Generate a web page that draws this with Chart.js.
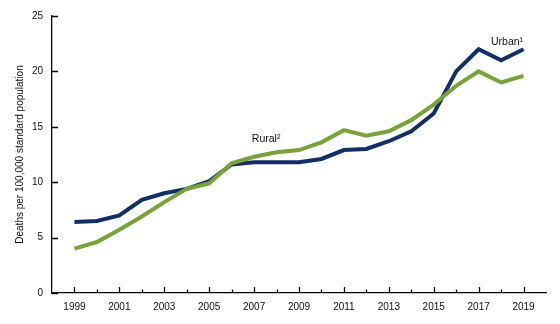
<!DOCTYPE html>
<html>
<head>
<meta charset="utf-8">
<script src="https://cdn.jsdelivr.net/npm/chart.js@4"></script>
<style>
  html, body { margin: 0; padding: 0; background: #fff; }
  #wrap { width: 560px; height: 324px; }
</style>
</head>
<body>
<div id="wrap"><canvas id="line_chart" width="560" height="324"></canvas></div>
<script>
// values
let years = [1999, 2000, 2001, 2002, 2003, 2004, 2005, 2006, 2007, 2008, 2009,
             2010, 2011, 2012, 2013, 2014, 2015, 2016, 2017, 2018, 2019]
let urban = [6.4, 6.5, 7.0, 8.4, 9.0, 9.4, 10.1, 11.6, 11.8, 11.8, 11.8,
             12.1, 12.9, 13.0, 13.7, 14.6, 16.2, 20.0, 22.0, 21.0, 22.0]
let rural = [4.0, 4.6, 5.7, 6.9, 8.2, 9.4, 9.9, 11.7, 12.3, 12.7, 12.9,
             13.6, 14.7, 14.2, 14.6, 15.6, 17.0, 18.7, 20.0, 19.0, 19.6]
let yTicks = [0, 5, 10, 15, 20, 25]
let xLabels = [1999, 2001, 2003, 2005, 2007, 2009, 2011, 2013, 2015, 2017, 2019]

let font = "'Liberation Sans', Arial, sans-serif"

function toPoints(values) {
    return years.map((yr, i) => ({x: yr, y: values[i]}))
}

// ticks point inward, and series labels sit next to the lines
let extras = {
    id: 'extras',
    afterDraw(chart) {
        let ctx = chart.ctx
        let xs = chart.scales.x
        let ys = chart.scales.y
        let area = chart.chartArea
        ctx.save()
        ctx.strokeStyle = '#000'
        ctx.lineWidth = 1.3
        ctx.beginPath()
        for (let yr = 1999; yr <= 2019; yr++) {
            let px = Math.round(xs.getPixelForValue(yr)) + 0.5
            let len = xLabels.includes(yr) ? 6 : 3.5
            ctx.moveTo(px, area.bottom)
            ctx.lineTo(px, area.bottom - len)
        }
        yTicks.forEach(v => {
            let py = Math.round(ys.getPixelForValue(v)) + 0.5
            ctx.moveTo(area.left, py)
            ctx.lineTo(area.left + 6, py)
        })
        ctx.stroke()

        ctx.fillStyle = '#111'
        ctx.font = '10.5px ' + font
        ctx.textBaseline = 'middle'
        ctx.textAlign = 'left'
        ctx.fillText('Urban\u00b9', xs.getPixelForValue(2017.55), ys.getPixelForValue(22.6))
        ctx.fillText('Rural\u00b2', xs.getPixelForValue(2006.9), ys.getPixelForValue(13.9))

        ctx.font = '10px ' + font
        ctx.translate(20, (area.top + area.bottom) / 2)
        ctx.rotate(-Math.PI / 2)
        ctx.textAlign = 'center'
        ctx.fillText('Deaths per 100,000 standard population', 0, 0)
        ctx.restore()
    }
}

let chartData = {
    type: 'line',
    data: {
        datasets: [
            {label: 'Rural', data: toPoints(rural), borderColor: '#78a23a', borderWidth: 4, pointRadius: 0, tension: 0},
            {label: 'Urban', data: toPoints(urban), borderColor: '#102f67', borderWidth: 4, pointRadius: 0, tension: 0}
        ]
    },
    options: {
        responsive: false,
        animation: false,
        layout: {padding: {top: 16, right: 14, left: 0, bottom: 0}},
        plugins: {legend: {display: false}, tooltip: {enabled: false}},
        scales: {
            x: {
                type: 'linear',
                min: 1998,
                max: 2020,
                afterBuildTicks: s => { s.ticks = xLabels.map(v => ({value: v})) },
                afterFit: s => { s.height = 31 },
                grid: {display: false, drawTicks: false},
                border: {display: true, color: '#000', width: 1.3},
                ticks: {color: '#111', font: {family: font, size: 10}, padding: 8, maxRotation: 0,
                        callback: v => String(v)}
            },
            y: {
                min: 0,
                max: 25,
                afterBuildTicks: s => { s.ticks = yTicks.map(v => ({value: v})) },
                afterFit: s => { s.width = 52 },
                grid: {display: false, drawTicks: false},
                border: {display: true, color: '#000', width: 1.3},
                ticks: {color: '#111', font: {family: font, size: 10}, padding: 9}
            }
        }
    },
    plugins: [extras]
}

function Charting(id, data) {
    let ctx = document.getElementById(id).getContext('2d')
    let chart = new Chart(ctx, data)
}

Charting('line_chart', chartData)
</script>
</body>
</html>
